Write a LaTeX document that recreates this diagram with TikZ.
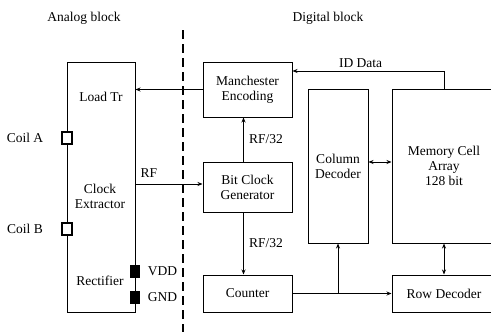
\documentclass[tikz,border=0pt]{standalone}
\usepackage{fontspec}
\setmainfont{Liberation Serif}
\usetikzlibrary{
  arrows.meta,
  positioning,
  calc
}
\tikzset{
  txt/.style={font=\fontsize{13.5}{15}\selectfont,align=center,inner sep=0pt},
  blockbox/.style={
    txt,
    draw,
    line width=1pt
  },
  coilpad/.style={draw,line width=1.6pt,fill=white,minimum width=10pt,minimum height=12pt,inner sep=0pt},
  powerpad/.style={draw,fill=black,minimum width=9pt,minimum height=12pt,inner sep=0pt},
  sigarrow/.style={-{Stealth[length=5pt,width=4pt]},line width=1pt},
  busarrow/.style={{Stealth[length=5pt,width=4pt]}-{Stealth[length=5pt,width=4pt]},line width=1pt},
  divider/.style={line width=1.6pt,dash pattern=on 9pt off 5pt}
}

\begin{document}
\begin{tikzpicture}[x=1pt,y=-1pt]
  \useasboundingbox (0,0) rectangle (491,332);
  \clip (0,0) rectangle (491,332);

  % block titles and border
  \node[txt] (anatitle) at (84,18) {Analog block};
  \node[txt] (digtitle) at (328,18) {Digital block};
  \coordinate (divtop) at (183,30);
  \coordinate (divbot) at (183,332);
  \draw[divider] (divtop) -- (divbot);

  % analog side
  \node[blockbox,minimum width=68pt,minimum height=250pt] (ana) at (101,187) {};
  \node[txt] (loadtr) at (101,97) {Load Tr};
  \node[txt] (clkext) at (100,196) {Clock\\Extractor};
  \node[txt] (rect) at (100,281) {Rectifier};
  \node[coilpad] (coila) at (67,138) {};
  \node[coilpad,line width=1.3pt] (coilb) at (67,229) {};
  \node[txt] (coilatxt) at (25,138) {Coil A};
  \node[txt] (coilbtxt) at (25,229) {Coil B};
  \node[powerpad] (vdd) at (135,271) {};
  \node[powerpad] (gnd) at (135,297) {};
  \node[txt,right=8pt of vdd] {VDD};
  \node[txt,right=8pt of gnd] {GND};

  % digital side
  \node[blockbox,minimum width=89pt,minimum height=55pt] (man) at (247.5,89.5) {Manchester\\Encoding};
  \node[blockbox,minimum width=89pt,minimum height=50pt] (bcg) at (247.5,187) {Bit Clock\\Generator};
  \node[blockbox,minimum width=89pt,minimum height=37pt] (cnt) at (247.5,293.5) {Counter};
  \node[blockbox,minimum width=60pt,minimum height=154pt] (col) at (338,166) {Column\\Decoder};
  \node[blockbox,minimum width=104pt,minimum height=154pt] (mem) at (444,166) {Memory Cell\\Array\\128 bit};
  \node[blockbox,minimum width=104pt,minimum height=37pt] (row) at (444,293.5) {Row Decoder};

  \draw[sigarrow] (man.west) -- (man.west -| ana.east);
  \draw[sigarrow] (ana.east |- 0,184) -- node[txt,above=6pt,pos=0.2] {RF} (bcg.west |- 0,184);
  \draw[sigarrow] ([xshift=-4pt]bcg.north) -- node[txt,right=5pt] {RF/32} ([xshift=-4pt]man.south);
  \draw[sigarrow] ([xshift=-4pt]bcg.south) -- node[txt,right=5pt] {RF/32} ([xshift=-4pt]cnt.north);
  \draw[sigarrow] (mem.north) -- (mem.north |- 0,71) -- node[txt,above=3pt,pos=0.55] {ID Data} (man.east |- 0,71);
  \draw[busarrow] (col.east |- 0,162) -- (mem.west |- 0,162);
  \draw[busarrow] (mem.south) -- (row.north);
  \draw[sigarrow] (cnt.east) -- (row.west);
  \draw[sigarrow] (cnt.east -| col.south) -- (col.south);
\end{tikzpicture}
\end{document}
